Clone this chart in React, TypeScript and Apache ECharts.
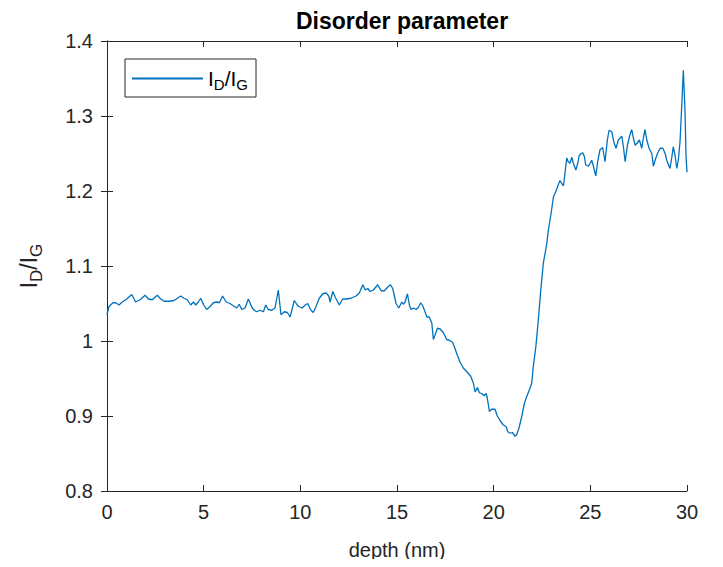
import React, { useEffect, useRef } from "react";
import * as echarts from "echarts";

const depth = [
  0, 0.1, 0.31, 0.45, 0.62, 0.79, 1.02, 1.28, 1.48, 1.71, 1.97, 2.14, 2.34, 2.43, 2.6, 2.78, 2.95, 3.21, 3.47, 3.64,
  3.81, 3.98, 4.15, 4.33, 4.47, 4.59, 4.72, 4.85, 5.0, 5.16, 5.33, 5.5, 5.67, 5.81, 5.98, 6.16, 6.36, 6.53, 6.71, 6.84,
  6.97, 7.14, 7.31, 7.49, 7.62, 7.74, 7.91, 8.09, 8.21, 8.34, 8.52, 8.69, 8.86, 9.0, 9.17, 9.33, 9.47, 9.69, 9.84, 9.92,
  10.09, 10.26, 10.38, 10.55, 10.67, 10.81, 10.98, 11.16, 11.33, 11.47, 11.54, 11.68, 11.81, 12.02, 12.19, 12.36, 12.62,
  12.88, 13.05, 13.23, 13.36, 13.49, 13.61, 13.78, 14.0, 14.18, 14.35, 14.52, 14.66, 14.78, 14.95, 15.09, 15.25, 15.33,
  15.42, 15.54, 15.64, 15.73, 15.85, 15.99, 16.11, 16.23, 16.33, 16.45, 16.54, 16.67, 16.8, 16.88, 16.97, 17.09, 17.23,
  17.4, 17.57, 17.71, 17.88, 18.0, 18.12, 18.26, 18.43, 18.61, 18.81, 18.95, 19.04, 19.16, 19.26, 19.38, 19.5, 19.61,
  19.67, 19.78, 19.9, 20.07, 20.19, 20.33, 20.5, 20.64, 20.73, 20.85, 20.97, 21.11, 21.19, 21.31, 21.45, 21.59, 21.71,
  21.88, 21.97, 22.05, 22.18, 22.31, 22.45, 22.57, 22.66, 22.75, 22.83, 22.97, 23.09, 23.21, 23.31, 23.43, 23.52, 23.61,
  23.69, 23.78, 23.86, 23.95, 24.04, 24.12, 24.25, 24.35, 24.42, 24.52, 24.61, 24.69, 24.76, 24.9, 24.99, 25.07, 25.16,
  25.28, 25.39, 25.5, 25.64, 25.76, 25.88, 25.97, 26.11, 26.23, 26.33, 26.45, 26.63, 26.71, 26.8, 26.92, 27.02, 27.14,
  27.23, 27.32, 27.43, 27.54, 27.66, 27.75, 27.83, 27.92, 28.04, 28.18, 28.26, 28.35, 28.47, 28.61, 28.75, 28.87, 28.95,
  29.12, 29.21, 29.29, 29.38, 29.47, 29.55, 29.64, 29.73, 29.81, 29.9, 29.95, 30.0,
];

const ratio = [
  1.035, 1.046, 1.051, 1.051, 1.048, 1.052, 1.056, 1.062, 1.052, 1.055, 1.061, 1.056, 1.055, 1.057, 1.061, 1.056, 1.053,
  1.053, 1.054, 1.057, 1.06, 1.057, 1.055, 1.048, 1.052, 1.048, 1.052, 1.057, 1.048, 1.042, 1.046, 1.051, 1.052, 1.051,
  1.06, 1.052, 1.05, 1.047, 1.044, 1.049, 1.042, 1.044, 1.056, 1.045, 1.041, 1.039, 1.041, 1.039, 1.048, 1.042, 1.041,
  1.044, 1.068, 1.035, 1.039, 1.038, 1.032, 1.054, 1.048, 1.046, 1.044, 1.048, 1.05, 1.041, 1.038, 1.046, 1.057, 1.063,
  1.064, 1.06, 1.052, 1.066, 1.058, 1.048, 1.056, 1.056, 1.057, 1.06, 1.064, 1.075, 1.068, 1.07, 1.066, 1.068, 1.075,
  1.067, 1.067, 1.072, 1.075, 1.07, 1.05, 1.044, 1.052, 1.049, 1.052, 1.063, 1.048, 1.042, 1.044, 1.042, 1.045, 1.051,
  1.047, 1.039, 1.032, 1.032, 1.024, 1.002, 1.008, 1.017, 1.016, 1.011, 1.002, 1.001, 0.998, 0.99, 0.981, 0.972, 0.964,
  0.959, 0.953, 0.944, 0.932, 0.938, 0.931, 0.93, 0.927, 0.93, 0.924, 0.906, 0.909, 0.909, 0.9, 0.894, 0.888, 0.886,
  0.879, 0.877, 0.878, 0.873, 0.875, 0.884, 0.899, 0.917, 0.926, 0.937, 0.944, 0.966, 0.992, 1.028, 1.072, 1.104, 1.117,
  1.13, 1.148, 1.17, 1.192, 1.199, 1.206, 1.214, 1.21, 1.207, 1.224, 1.244, 1.239, 1.237, 1.245, 1.237, 1.228, 1.237,
  1.247, 1.25, 1.251, 1.246, 1.235, 1.233, 1.237, 1.241, 1.233, 1.22, 1.241, 1.255, 1.258, 1.239, 1.268, 1.281, 1.279,
  1.264, 1.257, 1.268, 1.273, 1.259, 1.239, 1.261, 1.272, 1.282, 1.27, 1.261, 1.264, 1.268, 1.257, 1.272, 1.282, 1.268,
  1.257, 1.25, 1.233, 1.241, 1.25, 1.257, 1.257, 1.25, 1.241, 1.23, 1.244, 1.259, 1.248, 1.23, 1.241, 1.266, 1.315,
  1.361, 1.304, 1.246, 1.225,
];

const seriesName = "ID/IG";
const titleText = "Disorder parameter";
const xAxisName = "depth (nm)";

const FONT = "Liberation Sans, Arial, Helvetica, sans-serif";
const AXIS = "#262626";

export default function App() {
  const ref = useRef<HTMLDivElement>(null);
  useEffect(() => {
    if (!ref.current) return;
    const chart = echarts.init(ref.current, undefined, { renderer: "svg" });
    const data = depth.map((d, i) => [d, ratio[i]]);
    const axisCommon = {
      axisLine: { show: true, lineStyle: { color: AXIS, width: 1 } },
      axisTick: { show: true, inside: true, length: 6, lineStyle: { color: AXIS } },
      splitLine: { show: false },
    };
    chart.setOption({
      animation: false,
      backgroundColor: "#ffffff",
      textStyle: { fontFamily: FONT },
      title: {
        text: titleText,
        left: 397,
        textAlign: "center",
        top: 4,
        textStyle: { fontFamily: FONT, fontWeight: "bold", fontSize: 23, color: "#000" },
      },
      grid: { left: 107, right: 36, top: 41, bottom: 76, containLabel: false },
      legend: {
        data: [seriesName],
        left: 125,
        top: 59,
        orient: "horizontal",
        icon: "rect",
        itemWidth: 71,
        itemHeight: 2,
        itemGap: 0,
        padding: [6, 8, 5, 7],
        borderColor: AXIS,
        borderWidth: 1,
        backgroundColor: "#fff",
        formatter: () => "{a|I}{b|D}{a|/I}{b|G}",
        textStyle: {
          fontFamily: FONT,
          color: "#000",
          rich: {
            a: { fontSize: 21, fontFamily: FONT, color: "#000", lineHeight: 22 },
            b: { fontSize: 15, fontFamily: FONT, color: "#000", lineHeight: 16, padding: [12, 0, 0, 0] },
          },
        },
      },
      xAxis: [
        {
          type: "value",
          min: 0,
          max: 30,
          interval: 5,
          position: "bottom",
          name: xAxisName,
          nameLocation: "middle",
          nameGap: 49,
          nameTextStyle: { fontFamily: FONT, fontSize: 20, color: AXIS },
          axisLabel: { fontFamily: FONT, fontSize: 20, color: AXIS, margin: 11 },
          ...axisCommon,
        },
        {
          type: "value",
          min: 0,
          max: 30,
          interval: 5,
          position: "top",
          axisLabel: { show: false },
          ...axisCommon,
        },
      ],
      yAxis: [
        {
          type: "value",
          min: 0.8,
          max: 1.4,
          interval: 0.1,
          position: "left",
          name: "{a|I}{b|D}{a|/I}{b|G}",
          nameLocation: "middle",
          nameGap: 66,
          nameRotate: 90,
          nameTextStyle: {
            fontFamily: FONT,
            color: AXIS,
            rich: {
              a: { fontSize: 23, fontFamily: FONT, color: AXIS, lineHeight: 24 },
              b: { fontSize: 17, fontFamily: FONT, color: AXIS, lineHeight: 18, padding: [14, 0, 0, 0] },
            },
          },
          axisLabel: {
            fontFamily: FONT,
            fontSize: 20,
            color: AXIS,
            margin: 14,
            formatter: (v: number) => String(Math.round(v * 10) / 10),
          },
          ...axisCommon,
        },
        {
          type: "value",
          min: 0.8,
          max: 1.4,
          interval: 0.1,
          position: "right",
          axisLabel: { show: false },
          ...axisCommon,
        },
      ],
      series: [
        {
          name: seriesName,
          type: "line",
          data,
          xAxisIndex: 0,
          yAxisIndex: 0,
          showSymbol: false,
          symbol: "none",
          lineStyle: { color: "#0072BD", width: 1.3 },
          itemStyle: { color: "#0072BD" },
        },
      ],
    });
    return () => chart.dispose();
  }, []);
  return <div ref={ref} style={{ width: 723, height: 567, margin: -8 }} />;
}
